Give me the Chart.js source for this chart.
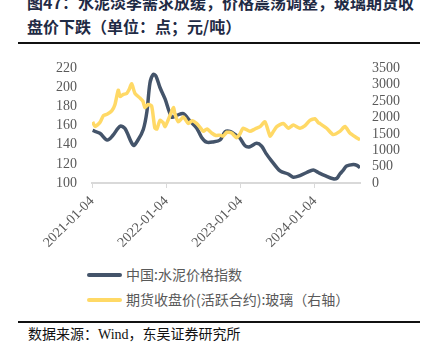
<!DOCTYPE html>
<html><head><meta charset="utf-8">
<script src="https://cdn.jsdelivr.net/npm/chart.js@4"></script>
<style>
html,body{margin:0;padding:0;background:#fff;}
#wrap{position:relative;width:427px;height:352px;overflow:hidden;background:#fff;}
#title{position:absolute;left:27px;top:-10px;font-family:"Noto Sans CJK SC";font-weight:700;font-size:16px;line-height:24px;color:#1f2b45;white-space:nowrap;}
#rule1{position:absolute;left:18px;top:42px;width:402px;height:2px;background:#111;}
#cv{position:absolute;left:0;top:45px;}
.leg{position:absolute;left:87px;font-family:"Noto Sans CJK SC";font-size:14px;color:#595959;white-space:nowrap;height:18px;line-height:18px;}
.leg i{display:inline-block;width:35px;height:4px;border-radius:2px;vertical-align:middle;margin-right:4px;position:relative;top:-1px;}
#rule2{position:absolute;left:18px;top:321px;width:402px;height:1.5px;background:#111;}
#src{position:absolute;left:28px;top:326px;font-family:"Liberation Serif","Noto Sans CJK SC";font-size:14px;line-height:18px;color:#111;white-space:nowrap;}
</style></head>
<body><div id="wrap">
<div id="title">图47：水泥淡季需求放缓，价格震荡调整，玻璃期货收<br>盘价下跌（单位：点；元/吨）</div>
<div id="rule1"></div>
<canvas id="cv" width="427" height="217"></canvas>
<div class="leg" style="top:265px"><i style="background:#44546A"></i>中国:水泥价格指数</div>
<div class="leg" style="top:290px"><i style="background:#FFD966"></i>期货收盘价(活跃合约):玻璃（右轴）</div>
<div id="rule2"></div>
<div id="src">数据来源：Wind，东吴证券研究所</div>
</div>
<script>
const seriesNames = ['中国:水泥价格指数', '期货收盘价(活跃合约):玻璃（右轴）'];
const xTickLabels = ['2021-01-04', '2022-01-04', '2023-01-04', '2024-01-04'];
const leftTicks = [100, 120, 140, 160, 180, 200, 220];
const rightTicks = [0, 500, 1000, 1500, 2000, 2500, 3000, 3500];
const xEnd = '2024-08-13';

const cementDates = ['2021-01-07','2021-02-12','2021-03-20','2021-04-17','2021-05-22','2021-06-15','2021-07-26','2021-08-18','2021-09-13','2021-10-01','2021-10-16','2021-11-01','2021-11-14','2021-12-04','2021-12-29','2022-01-31','2022-02-26','2022-03-29','2022-04-30','2022-06-02','2022-06-26','2022-07-21','2022-08-23','2022-09-25','2022-10-20','2022-11-13','2022-12-07','2023-01-01','2023-01-26','2023-02-19','2023-03-24','2023-04-18','2023-05-09','2023-06-06','2023-07-17','2023-08-26','2023-09-20','2023-10-23','2023-11-25','2023-12-27','2024-01-21','2024-02-23','2024-04-03','2024-04-22','2024-05-06','2024-05-21','2024-06-08','2024-07-11','2024-07-29','2024-08-13'];
const cementValues = [155,152,145,150,159.5,157,139.5,145,156,175,205,213.7,212,200,188,169,171,172.7,165,157.7,148,142.7,143,145,153.5,154,151,147,139,138,141.5,138.5,131,123,112.7,109.4,106,107.7,111,113.7,111,107.7,104.4,105,109.4,113,117.7,119.4,118.5,116];

const glassDates = ['2021-01-07','2021-01-19','2021-02-12','2021-03-01','2021-03-19','2021-04-11','2021-04-27','2021-05-13','2021-05-22','2021-06-05','2021-06-24','2021-07-05','2021-07-18','2021-08-03','2021-08-28','2021-09-11','2021-09-21','2021-10-06','2021-10-24','2021-11-09','2021-11-19','2021-12-04','2021-12-19','2021-12-29','2022-01-22','2022-02-08','2022-02-16','2022-03-04','2022-03-29','2022-04-22','2022-05-11','2022-06-02','2022-06-19','2022-07-05','2022-07-23','2022-08-15','2022-09-05','2022-09-25','2022-10-11','2022-10-29','2022-11-21','2022-12-16','2023-01-01','2023-01-17','2023-02-19','2023-03-16','2023-04-10','2023-05-04','2023-05-29','2023-06-12','2023-07-01','2023-08-02','2023-08-27','2023-09-20','2023-10-23','2023-11-17','2023-12-11','2024-01-05','2024-01-20','2024-01-29','2024-03-02','2024-04-03','2024-05-06','2024-05-31','2024-06-24','2024-07-27','2024-08-13'];
const glassValues = [1868,1723,1850,2059,2100,2204,2400,2833,2639,2700,2738,2850,3028,2738,2593,2500,2303,2400,2349,1673,1650,1914,1850,1723,2059,2303,2100,1868,2013,1818,1900,1818,1700,1578,1650,1528,1450,1462,1433,1550,1528,1383,1500,1673,1578,1650,1723,1868,1433,1550,1723,1818,1673,1769,1673,1750,1914,1963,1850,1818,1673,1479,1578,1723,1528,1383,1317];

const t0 = Date.UTC(2021, 0, 4);
function dayOf(s) { const p = s.split('-').map(Number); return (Date.UTC(p[0], p[1]-1, p[2]) - t0) / 86400000; }
const toPts = (d, v) => d.map((s, i) => ({x: dayOf(s), y: v[i]}));
const serif = {family: '"Liberation Serif", "Times New Roman", serif', size: 14};

new Chart(document.getElementById('cv'), {
  type: 'line',
  data: {
    datasets: [
      {label: seriesNames[0], data: toPts(cementDates, cementValues), yAxisID: 'yL', borderColor: '#44546A', borderWidth: 3.5, pointRadius: 0, tension: 0.3, order: 1},
      {label: seriesNames[1], data: toPts(glassDates, glassValues), yAxisID: 'yR', borderColor: '#FFD966', borderWidth: 3.5, pointRadius: 0, tension: 0.2, order: 0}
    ]
  },
  options: {
    responsive: false, animation: false,
    layout: {padding: {top: 17, left: 0, right: 0, bottom: 0}},
    plugins: {legend: {display: false}, tooltip: {enabled: false}},
    scales: {
      x: {
        type: 'linear', min: 0, max: dayOf(xEnd),
        afterBuildTicks: s => { s.ticks = xTickLabels.map(l => ({value: dayOf(l)})); },
        afterFit: s => { s.height = 79; },
        ticks: {font: serif, color: '#595959', minRotation: 45, maxRotation: 45, padding: 5, autoSkip: false,
          callback: (v) => { const i = xTickLabels.findIndex(l => dayOf(l) === v); return i >= 0 ? xTickLabels[i] : ''; }},
        grid: {display: true, drawOnChartArea: false, drawTicks: true, tickLength: 5, color: '#d9d9d9'},
        border: {display: true, color: '#d9d9d9', width: 2}
      },
      yL: {
        position: 'left', min: 100, max: 220,
        afterBuildTicks: s => { s.ticks = leftTicks.map(v => ({value: v})); },
        afterFit: s => { s.width = 92; },
        ticks: {font: serif, color: '#595959', padding: 15, autoSkip: false, callback: v => String(v)},
        grid: {display: false, drawTicks: false}, border: {display: false}
      },
      yR: {
        position: 'right', min: 0, max: 3500,
        afterBuildTicks: s => { s.ticks = rightTicks.map(v => ({value: v})); },
        afterFit: s => { s.width = 67; },
        ticks: {font: serif, color: '#595959', padding: 12, autoSkip: false, callback: v => String(v)},
        grid: {display: false, drawTicks: false}, border: {display: false}
      }
    }
  }
});
</script>
</body></html>
